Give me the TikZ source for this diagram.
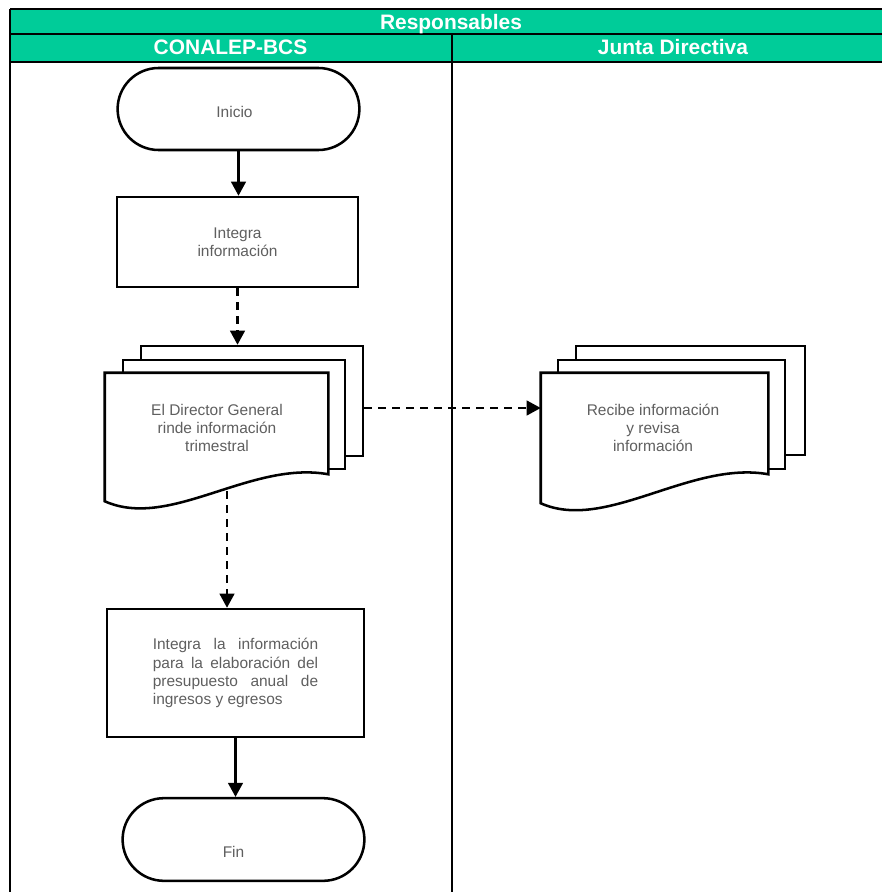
\documentclass[tikz,border=0pt]{standalone}
\usepackage{fontspec}
\setmainfont{Liberation Sans}
\usetikzlibrary{shapes.misc,arrows.meta,calc,positioning}
\definecolor{verdeCon}{RGB}{0,204,153}
\definecolor{grisTexto}{RGB}{95,95,95}

\tikzset{
  titulo/.style={text=white, anchor=base, inner sep=0pt, font=\fontsize{15.7}{18}\selectfont\bfseries},
  texto/.style={text=grisTexto, font=\fontsize{11.6}{13.6}\selectfont, align=center},
  terminal/.style={rounded rectangle, draw, line width=1.9pt, minimum width=188pt, minimum height=61.5pt},
  proceso/.style={rectangle, draw, line width=1.9pt},
  hoja/.style={rectangle, draw, line width=1.9pt, fill=white, inner sep=0pt},
  conector/.style={line width=1.6pt, -{Triangle[length=10.5pt,width=11pt]}},
  punteado/.style={dash pattern=on 6pt off 4.5pt}
}

\begin{document}
\begin{tikzpicture}[x=0.75pt,y=-0.75pt]
  \useasboundingbox (0,0) rectangle (882,892);

  % Encabezado de responsables
  \fill[verdeCon] (10,9) rectangle (882,62);
  \draw[line width=1.6pt] (10,9) -- (882,9);
  \draw[line width=1.6pt] (10,34) -- (882,34);
  \draw[line width=1.6pt] (10,62) -- (882,62);
  \draw[line width=1.6pt] (10,9) -- (10,892);
  \draw[line width=1.6pt] (452,34) -- (452,892);
  \node[titulo] (responsables) at (451,30) {Responsables};
  \node[titulo] (conalep) at (230.5,55) {CONALEP-BCS};
  \node[titulo] (junta) at (673,55) {Junta Directiva};

  % Inicio
  \node[terminal, label={[texto, xshift=-3pt, yshift=-2.25pt]center:Inicio}] (inicio) at (238.5,109) {};

  % Integra informacion
  \node[proceso, texto, minimum width=181pt, minimum height=67.5pt] (integra) at (237.5,242)
    {Integra\\información};

  % Documentos del Director General
  \node[hoja, minimum width=166.5pt, minimum height=82.5pt] (rinde3) at (252,401) {};
  \node[hoja, minimum width=166.5pt, minimum height=81.75pt] (rinde2) at (234,414.5) {};
  \node[inner sep=0pt, minimum width=167.25pt, minimum height=75.75pt] (rinde1) at (216.5,423.5) {};
  \draw[line width=1.9pt, fill=white] (rinde1.north west) -- (rinde1.north east) -- (rinde1.south east)
    .. controls +(-78,-14) and +(65,29) .. ($(rinde1.south west)+(0,27)$) -- cycle;
  \node[texto] (textoRinde) at (217,428) {El Director General\\rinde información\\trimestral};

  % Documentos de la Junta Directiva
  \node[hoja, minimum width=171.75pt, minimum height=81.75pt] (recibe3) at (690.5,400.5) {};
  \node[hoja, minimum width=170.25pt, minimum height=81.75pt] (recibe2) at (671.5,414.5) {};
  \node[inner sep=0pt, minimum width=170.25pt, minimum height=75.75pt] (recibe1) at (654.5,423.5) {};
  \draw[line width=1.9pt, fill=white] (recibe1.north west) -- (recibe1.north east) -- (recibe1.south east)
    .. controls +(-78,-14) and +(65,29) .. ($(recibe1.south west)+(0,29)$) -- cycle;
  \node[texto] (textoRecibe) at (653,428) {Recibe información\\y revisa\\información};

  % Presupuesto anual
  \node[proceso, minimum width=193pt, minimum height=96pt] (presupuesto) at (235.5,673) {};
  \node[texto, align=left] (textoPresupuesto) at (presupuesto) {%
    \makebox[124pt][s]{Integra la información}\\
    \makebox[124pt][s]{para la elaboración del}\\
    \makebox[124pt][s]{presupuesto anual de}\\
    ingresos y egresos};

  % Fin
  \node[terminal, minimum height=62pt,
    label={[texto, xshift=-7.5pt, yshift=-9pt]center:Fin}] (fin) at (243.5,839.5) {};

  % Conectores
  \coordinate (ondaA) at (227,491);
  \coordinate (salidaA) at ($(rinde3.east)+(0,7)$);
  \draw[conector] (inicio.south) -- (inicio.south |- integra.north);
  \draw[conector, punteado] (integra.south) -- (integra.south |- rinde3.north);
  \draw[conector, punteado] (salidaA) -- (salidaA -| recibe1.west);
  \draw[conector, punteado] (ondaA) -- (ondaA |- presupuesto.north);
  \draw[conector] (presupuesto.south) -- (presupuesto.south |- fin.north);
\end{tikzpicture}
\end{document}
